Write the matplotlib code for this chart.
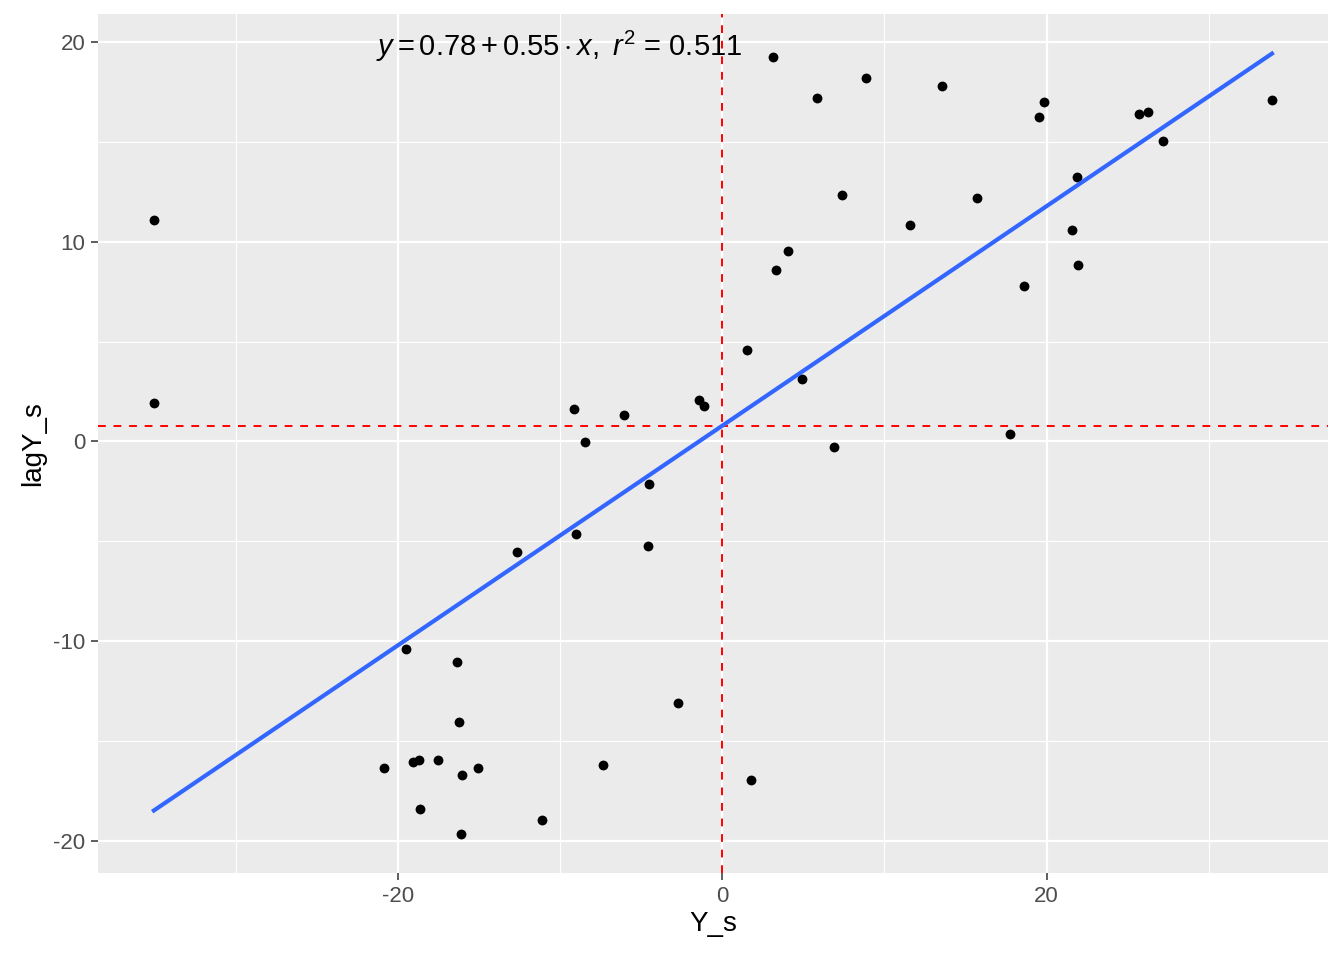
import matplotlib
matplotlib.use("Agg")
import matplotlib.pyplot as plt
import numpy as np
from matplotlib.ticker import MultipleLocator

# Data (Y_s vs lagY_s)
y_s = [-35.08, -35.08, -19.51, -20.86, -19.08, -18.71, -18.65, -17.54, -16.37,
       -16.25, -16.06, -16.12, -15.08, -12.68, -11.14, -9.17, -9.05, -8.49,
       -7.38, -6.09, -4.55, -4.62, -2.71, -1.42, -1.11, 1.54, 1.78, 3.14, 3.32,
       4.06, 4.92, 5.85, 6.89, 7.38, 8.86, 11.57, 13.54, 15.69, 17.72, 18.58,
       19.51, 19.82, 21.60, 21.85, 21.97, 25.72, 26.28, 27.20, 33.91]
lag_y_s = [11.11, 1.95, -10.41, -16.37, -16.07, -15.97, -18.42, -15.97, -11.06,
           -14.07, -16.72, -19.67, -16.37, -5.56, -18.97, 1.65, -4.61, -0.05,
           -16.22, 1.35, -2.15, -5.26, -13.12, 2.10, 1.80, 4.56, -16.97, 19.27,
           8.61, 9.56, 3.15, 17.22, -0.30, 12.37, 18.22, 10.86, 17.82, 12.22,
           0.35, 7.81, 16.27, 17.02, 10.61, 13.27, 8.86, 16.42, 16.52, 15.07,
           17.12]
eq_label = r"$y = 0.78 + 0.55 \cdot x,\ r^2$ = 0.511"

x = np.array(y_s)
y = np.array(lag_y_s)

plt.rcParams['font.family'] = ['Liberation Sans', 'DejaVu Sans']
plt.rcParams['mathtext.fontset'] = 'custom'
plt.rcParams['mathtext.rm'] = 'Liberation Sans'
plt.rcParams['mathtext.it'] = 'Liberation Sans:italic'
plt.rcParams['axes.unicode_minus'] = False

fig = plt.figure(figsize=(13.44, 9.6), dpi=100)
ax = fig.add_axes([0.0729, 0.0906, 0.9151, 0.8948])
ax.set_facecolor('#EBEBEB')

# ggplot-like limits (5% expansion)
xr = x.max() - x.min()
yr = y.max() - y.min()
ax.set_xlim(x.min() - 0.05 * xr, x.max() + 0.05 * xr)
ax.set_ylim(y.min() - 0.05 * yr, y.max() + 0.055 * yr)

ax.xaxis.set_major_locator(MultipleLocator(20))
ax.xaxis.set_minor_locator(MultipleLocator(10))
ax.yaxis.set_major_locator(MultipleLocator(10))
ax.yaxis.set_minor_locator(MultipleLocator(5))
ax.grid(which='major', color='white', linewidth=1.6)
ax.grid(which='minor', color='white', linewidth=0.8)
ax.set_axisbelow(True)
for s in ax.spines.values():
    s.set_visible(False)
ax.tick_params(which='major', length=5, width=1.1, color='#333333',
               labelcolor='#4D4D4D', labelsize=16, pad=4)
ax.tick_params(which='minor', length=0)

# reference lines at the means
ax.axvline(x.mean(), color='#FF0000', linestyle=(0, (4, 4)), linewidth=1.4, zorder=2)
ax.axhline(y.mean(), color='#FF0000', linestyle=(0, (4, 4)), linewidth=1.4, zorder=2)

ax.scatter(x, y, s=50, color='black', zorder=3, linewidths=0)

# linear fit
b, a = np.polyfit(x, y, 1)
xs = np.linspace(x.min(), x.max(), 100)
ax.plot(xs, a + b * xs, color='#3366FF', linewidth=3, zorder=4)

ax.text(-21.4, 19.8, eq_label, ha='left', va='center', fontsize=21, color='black')

ax.set_xlabel('Y_s', fontsize=20, labelpad=3)
ax.set_ylabel('lagY_s', fontsize=20, labelpad=5)

fig.savefig('out.png', dpi=100)
